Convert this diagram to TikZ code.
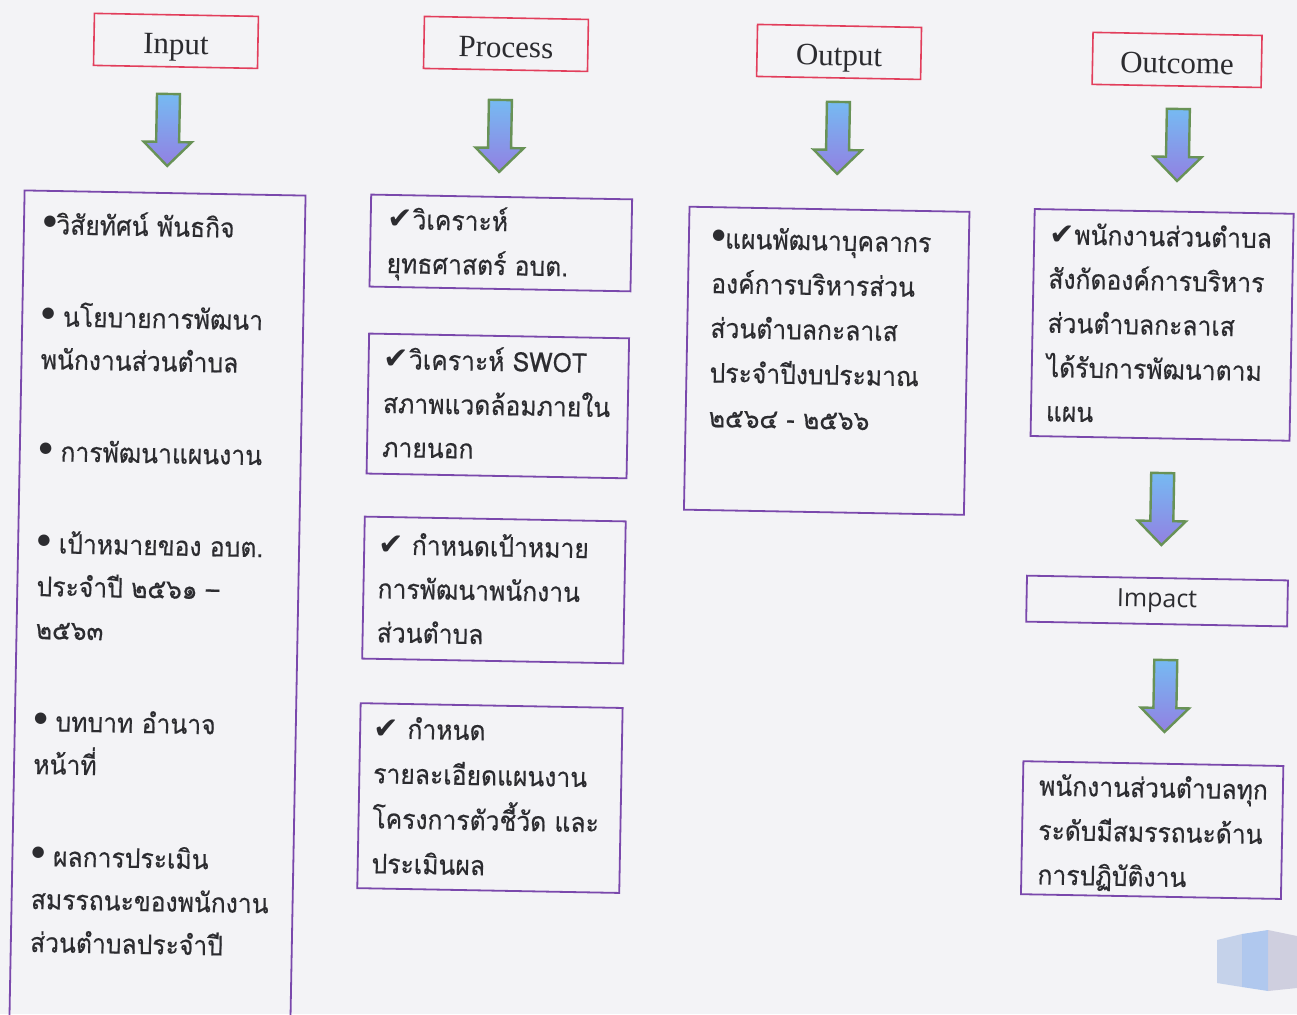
\documentclass[tikz,border=0pt]{standalone}
\usepackage{fontspec}
\setmainfont{Liberation Serif}
\newfontfamily\thaifont[Script=Thai, FakeStretch=0.915, FakeBold=0.4]{Loma}
\newfontfamily\symfont{DejaVu Sans}
\newfontfamily\latinsans{Open Sans}
\usetikzlibrary{calc}

\definecolor{paper}{RGB}{243,243,246}
\definecolor{headred}{RGB}{226,62,92}
\definecolor{boxpurple}{RGB}{122,72,172}
\definecolor{inkgray}{RGB}{44,44,48}
\definecolor{arrowtop}{RGB}{118,186,242}
\definecolor{arrowmid}{RGB}{178,108,214}
\definecolor{arrowbot}{RGB}{146,128,226}
\definecolor{arrowedge}{RGB}{104,146,86}
\definecolor{cubeleft}{RGB}{186,202,232}
\definecolor{cubemid}{RGB}{160,190,236}
\definecolor{cuberight}{RGB}{198,198,218}

\newcommand{\chk}{{\symfont\fontsize{30}{30}\selectfont ✔}}
\newcommand{\bul}{\raisebox{9pt}{\symfont\fontsize{15}{15}\selectfont ●}}
\newcommand{\topstrut}{\rule{0pt}{32pt}}

\begin{document}
\begin{tikzpicture}[x=1pt,y=-1pt,
  headbox/.style={draw=headred, line width=1.6pt, minimum width=164pt,
    minimum height=52pt, inner sep=0pt, text=inkgray,
    text height=30pt, text depth=3pt,
    font=\fontsize{31}{36}\selectfont},
  purplebox/.style={draw=boxpurple, line width=1.8pt, inner sep=0pt},
  thaitext/.style={anchor=north west, inner sep=0pt, align=left,
    text=inkgray, font=\thaifont\fontsize{27}{#1}\selectfont},
  fatarrow/.pic={
    \path[draw=arrowedge, line width=2.4pt, line join=miter,
      top color=arrowtop, middle color=arrowmid, bottom color=arrowbot]
      (-11.5,0) -- (11.5,0) -- (11.5,48) -- (24,48) -- (0,72)
      -- (-24,48) -- (-11.5,48) -- cycle;
  }
]
\useasboundingbox (0,0) rectangle (1297,1014);
\clip (0,0) rectangle (1297,1014);
\fill[paper] (0,0) rectangle (1297,1014);

\begin{scope}[rotate around={-1.05:(648,507)}, transform shape]
  % column headers
  \node[headbox] (hIn)  at (167.5,49.6)  {Input};
  \node[headbox] (hPr)  at (497.5,46.6)  {Process};
  \node[headbox] (hOut) at (830.7,48.5)  {Output};
  \node[headbox, minimum width=169pt] (hOc) at (1168.8,50.3) {Outcome};

  % block arrows under the headers
  \pic at (161,102.8)   {fatarrow};
  \pic at (493,102.7)   {fatarrow};
  \pic at (831,98.5)    {fatarrow};
  \pic at (1171,99.3)   {fatarrow};
  \pic at (1162,463.6)  {fatarrow};
  \pic at (1168.5,650.5){fatarrow};

  % frames
  \node[purplebox, anchor=north west, minimum width=281pt, minimum height=880pt] (bIn) at (18,201) {};
  \node[purplebox, minimum width=261pt, minimum height=92pt]  (bP1) at (496,245.7) {};
  \node[purplebox, minimum width=260pt, minimum height=140pt] (bP2) at (496,408.7) {};
  \node[purplebox, minimum width=261pt, minimum height=142pt] (bP3) at (495.5,592.8) {};
  \node[purplebox, minimum width=262pt, minimum height=185pt] (bP4) at (495.3,800.9) {};
  \node[purplebox, minimum width=280pt, minimum height=303pt] (bOut) at (824,357.5) {};
  \node[purplebox, minimum width=259pt, minimum height=227pt] (bOc) at (1158.7,315.5) {};
  \node[purplebox, minimum width=261pt, minimum height=46pt, text=inkgray,
        font=\latinsans\fontsize{25}{30}\selectfont] (bImp) at (1158.7,591.7) {Impact};
  \node[purplebox, minimum width=260pt, minimum height=133pt] (bFin) at (1158,820.8) {};

  % texts
  \node[thaitext=43pt] (tIn) at (38,213) {\topstrut\bul วิสัยทัศน์ พันธกิจ\\[49pt]
    \bul\ นโยบายการพัฒนา\\
    พนักงานส่วนตำบล\\[49pt]
    \bul\ การพัฒนาแผนงาน\\[49pt]
    \bul\ เป้าหมายของ อบต.\\
    ประจำปี ๒๕๖๑ –\\
    ๒๕๖๓\\[49pt]
    \bul\ บทบาท อำนาจ\\
    หน้าที่\\[49pt]
    \bul\ ผลการประเมิน\\
    สมรรถนะของพนักงาน\\
    ส่วนตำบลประจำปี};

  \node[thaitext=44pt] (tP1) at (382,201.6) {\topstrut\chk วิเคราะห์\\ ยุทธศาสตร์ อบต.};
  \node[thaitext=44pt] (tP2) at (381,341.6) {\topstrut\chk วิเคราะห์ SWOT\\ สภาพแวดล้อมภายใน\\ ภายนอก};
  \node[thaitext=44pt] (tP3) at (379,527) {\topstrut\chk\ กำหนดเป้าหมาย\\ การพัฒนาพนักงาน\\ ส่วนตำบล};
  \node[thaitext=45pt] (tP4) at (378,711) {\topstrut\chk\ กำหนด\\ รายละเอียดแผนงาน\\ โครงการตัวชี้วัด และ\\ ประเมินผล};

  \node[thaitext=44.7pt] (tOut) at (707,215) {\topstrut\bul แผนพัฒนาบุคลากร\\ องค์การบริหารส่วน\\ ส่วนตำบลกะลาเส\\ ประจำปีงบประมาณ\\ ๒๕๖๔ - ๒๕๖๖};
  \node[thaitext=44.3pt] (tOc) at (1044,204.6) {\topstrut\chk พนักงานส่วนตำบล\\ สังกัดองค์การบริหาร\\ ส่วนตำบลกะลาเส\\ ได้รับการพัฒนาตาม\\ แผน};
  \node[thaitext=44.5pt] (tFin) at (1044,756) {\topstrut พนักงานส่วนตำบลทุก\\ ระดับมีสมรรถนะด้าน\\ การปฏิบัติงาน};
\end{scope}

% small cube ornament in the corner
\fill[cubeleft, opacity=.8]  (1217,940) -- (1242,934) -- (1242,987) -- (1217,983) -- cycle;
\fill[cubemid, opacity=.8]   (1242,934) -- (1268,930) -- (1268,991) -- (1242,987) -- cycle;
\fill[cuberight, opacity=.8] (1268,930) -- (1297,936) -- (1297,988) -- (1268,991) -- cycle;
\end{tikzpicture}
\end{document}
